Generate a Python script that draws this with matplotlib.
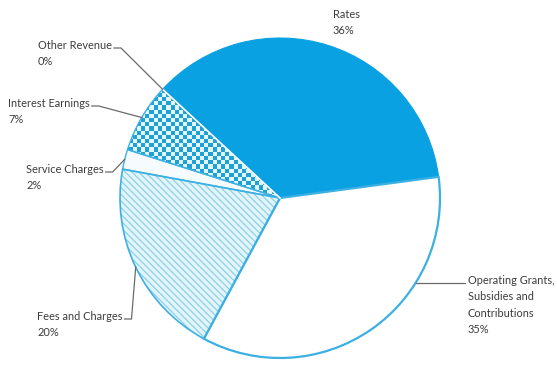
import numpy as np
import matplotlib.pyplot as plt
from matplotlib.colors import ListedColormap
from matplotlib.patches import Wedge

# figure size in pixels (dpi 100)
W, H = 557, 380

categories = [
    "Rates",
    "Other Revenue",
    "Interest Earnings",
    "Service Charges",
    "Fees and Charges",
    "Operating Grants,\nSubsidies and\nContributions",
]
shares = [36, 0, 7, 2, 20, 35]

# top-left corner of each label, in pixels from the top-left of the image
label_pos = [(333, 9), (38, 40), (8, 98), (26, 164), (37, 311), (468, 275)]

RATES_BLUE = "#0aa1e2"
EDGE_BLUE = "#3db0e3"
CHECK_BLUE = "#1fa0d6"
CHECK_LIGHT = "#e2f7fc"
HATCH_BLUE = "#8cd2e6"
TEXT_GREY = "#3c3c3c"
LINE_GREY = "#6b6b6b"


def main():
    plt.rcParams["font.family"] = ["Lato", "DejaVu Sans"]
    plt.rcParams["hatch.linewidth"] = 0.9

    fig = plt.figure(figsize=(W / 100, H / 100), dpi=100)
    ax = fig.add_axes([0, 0, 1, 1])

    cx, cy, r = 280, H - 198, 160
    wedges, _ = ax.pie(
        shares,
        startangle=7.6,
        counterclock=True,
        radius=r,
        center=(cx, cy),
        wedgeprops=dict(linewidth=0),
    )

    rates, other, interest, service, fees, operating = wedges
    rates.set_facecolor(RATES_BLUE)
    rates.set_edgecolor(RATES_BLUE)
    rates.set_linewidth(0.8)
    other.set_visible(False)

    # checkerboard fill for interest earnings, clipped to its wedge
    interest.set_facecolor("none")
    cell = 4.2
    n = int(2 * r / cell)
    grid = np.add.outer(np.arange(n), np.arange(n)) % 2
    img = ax.imshow(
        grid,
        cmap=ListedColormap([CHECK_BLUE, CHECK_LIGHT]),
        extent=(cx - r, cx + r, cy - r, cy + r),
        interpolation="nearest",
        zorder=1.5,
    )
    img.set_clip_path(interest)

    service.set_facecolor("#f6fcfe")

    fees.set_facecolor("#e3f5fa")
    fees.set_hatch("\\\\\\\\\\")
    fees.set_edgecolor(HATCH_BLUE)

    operating.set_facecolor("white")

    # outlines of the patterned slices
    for w, lw in [(interest, 1.0), (service, 1.0), (fees, 1.2), (operating, 1.6)]:
        ax.add_patch(Wedge(w.center, w.r, w.theta1, w.theta2, fill=False,
                           edgecolor=EDGE_BLUE, linewidth=lw, zorder=3))
    # thin white seam between rates and interest earnings
    t = np.deg2rad(interest.theta1)
    ax.plot([cx, cx + r * np.cos(t)], [cy, cy + r * np.sin(t)],
            color="white", linewidth=1.2, zorder=3.5)

    texts = []
    for cat, share, (x, y) in zip(categories, shares, label_pos):
        texts.append(ax.text(x, H - y, f"{cat}\n{share}%", ha="left", va="top",
                             fontsize=7.9, color=TEXT_GREY, linespacing=1.6))

    ax.set_xlim(0, W)
    ax.set_ylim(0, H)
    ax.set_aspect("equal")
    ax.axis("off")

    # leader lines from labels to the pie
    fig.canvas.draw()
    renderer = fig.canvas.get_renderer()
    inv = ax.transData.inverted()
    for i in range(1, len(texts)):
        bb = texts[i].get_window_extent(renderer).transformed(inv)
        y_line = H - (label_pos[i][1] + 8)
        w = wedges[i]
        if i == len(texts) - 1:
            dy = y_line - cy
            ex = cx + np.sqrt(r ** 2 - dy ** 2)
            xs, ys = [bb.x0 - 3, ex], [y_line, y_line]
        else:
            mid = np.deg2rad((w.theta1 + w.theta2) / 2)
            ex, ey = cx + r * np.cos(mid), cy + r * np.sin(mid)
            xs, ys = [bb.x1 + 2, bb.x1 + 9, ex], [y_line, y_line, ey]
        ax.plot(xs, ys, color=LINE_GREY, linewidth=0.9, zorder=4)

    fig.savefig("out.png", dpi=100)


if __name__ == "__main__":
    main()
